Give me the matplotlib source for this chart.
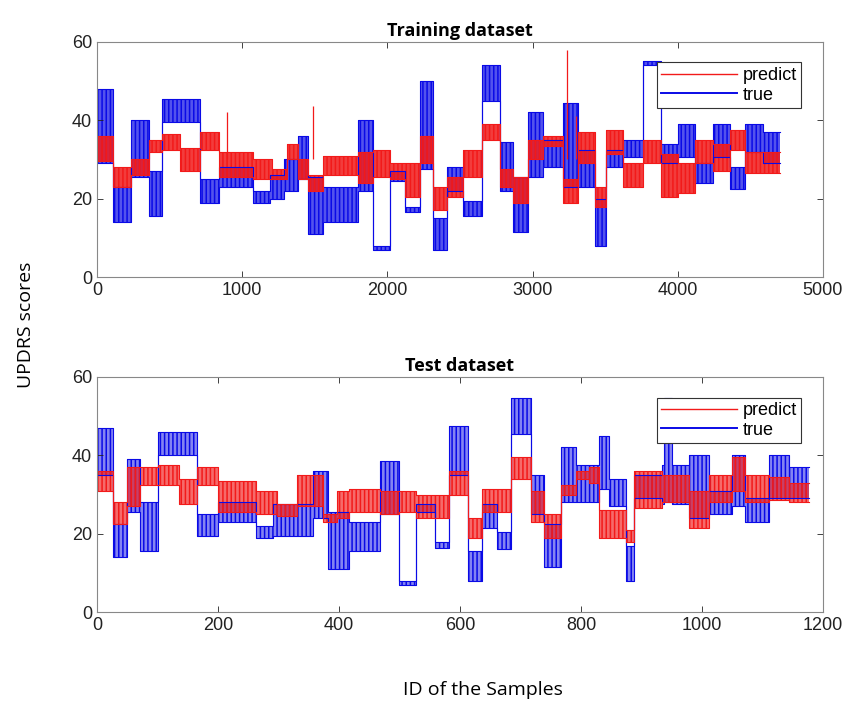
import matplotlib
matplotlib.use("Agg")
import matplotlib.pyplot as plt
from matplotlib.lines import Line2D

# ---- Training dataset: segment starts, lower / upper envelope of each series ----
train_true_x = [0, 110, 232, 358, 445, 709, 842, 1074, 1191, 1290, 1384, 1453, 1556,
                1799, 1902, 2017, 2120, 2224, 2315, 2408, 2522, 2649, 2775, 2867,
                2970, 3073, 3210, 3314, 3429, 3509, 3624, 3761, 3888, 4002, 4117,
                4243, 4358, 4461, 4588]
train_true_lo = [29, 14, 25.5, 15.5, 39.5, 19, 23, 19, 20, 22, 25, 11, 14,
                 22, 7, 24.5, 16.5, 27.5, 7, 22, 15.5, 45, 22, 11.5,
                 25.5, 28, 23, 23, 8, 28, 30.5, 54, 29, 30.5, 24,
                 30.5, 22.5, 32, 29]
train_true_hi = [48, 23, 40, 27, 45.5, 25, 28, 22, 26, 30, 36, 25.5, 23,
                 40, 8, 27, 18, 50, 15, 28, 19.5, 54, 34.5, 25.5,
                 42, 35, 44.5, 32.5, 20, 32.5, 35, 55, 34, 39, 29,
                 39, 28, 39, 37]
train_end = 4702

train_pred_x = [0, 110, 232, 358, 445, 571, 709, 842, 1074, 1202, 1306, 1384, 1453,
                1556, 1799, 1902, 2017, 2120, 2224, 2315, 2408, 2522, 2649, 2775,
                2867, 2970, 3073, 3210, 3314, 3429, 3509, 3624, 3761, 3888, 4002,
                4117, 4243, 4358, 4461, 4588]
train_pred_lo = [29.5, 23, 26, 32, 32.5, 27, 32.5, 25.5, 25, 25, 30, 25, 22,
                 26, 24, 25.5, 25, 20.5, 29, 17, 20.5, 25.5, 35, 23,
                 19, 30, 33.5, 19, 29, 18, 31.5, 23, 29, 20.5, 21.5,
                 29, 27, 32.5, 26.5, 26.5]
train_pred_hi = [36, 28, 30, 35, 36.5, 33, 37, 32, 30, 27.5, 34, 30, 26,
                 31, 32, 32.5, 29, 29, 36, 23, 25.5, 32.5, 39, 27.5,
                 25.5, 35, 36, 25, 37, 23, 37.5, 29, 35, 31.5, 29,
                 35, 34, 37.5, 32, 32]
train_spike_x = [893, 1489, 3240, 3300]
train_spike_y = [42, 43.5, 58, 41]

# ---- Test dataset ----
test_true_x = [0, 26, 49, 71, 101, 165, 200, 263, 291, 357, 382, 417, 467, 500,
               527, 558, 582, 613, 637, 662, 684, 717, 739, 767, 792, 830, 847,
               874, 888, 934, 937, 951, 979, 1012, 1050, 1072, 1111, 1144]
test_true_lo = [35, 14, 25.5, 15.5, 40, 19.5, 23, 19, 19.5, 24, 11, 15.5, 25, 7,
                25.5, 16.5, 35, 8, 21.5, 16, 45.5, 25, 11.5, 28, 28, 31.5, 27,
                8, 29, 27.5, 28, 27.5, 24, 25, 27, 23, 29, 29]
test_true_hi = [47, 22.5, 39, 28, 46, 25, 28, 22, 27.5, 36, 25.5, 23, 38.5, 8,
                27.5, 18, 47.5, 15.5, 27.5, 20.5, 54.5, 35, 22.5, 42, 37.5, 45, 34,
                17, 35, 37.5, 54.5, 37.5, 40, 31, 40, 29, 40, 37]
test_end = 1177

test_pred_x = [0, 26, 49, 71, 101, 135, 165, 200, 263, 297, 330, 373, 396, 417,
               467, 500, 527, 582, 613, 637, 684, 717, 739, 767, 792, 813, 830,
               874, 888, 934, 979, 1012, 1050, 1072, 1111, 1144]
test_pred_lo = [31, 22.5, 27, 32.5, 32.5, 27.5, 32.5, 25.5, 25, 24.5, 27, 23, 24, 25.5,
                25, 25.5, 24, 30, 19, 25.5, 34, 23, 19, 30, 34, 33, 19,
                18, 26.5, 28, 21.5, 28, 31, 28, 28.5, 28]
test_pred_hi = [36, 28, 37, 37, 37.5, 34, 37, 33.5, 31, 27.5, 35, 25, 31, 31.5,
                31, 31, 30, 36, 24, 31.5, 39.5, 31, 25, 32.5, 36, 37, 26,
                21, 36, 35, 31, 35, 39.5, 35, 34.5, 33]

RED = "#f21a1a"
BLUE = "#0a0ae6"

plt.rcParams["hatch.linewidth"] = 1.1


def band(ax, starts, end, lo, hi, color, alpha):
    xs = list(starts) + [end]
    los = list(lo) + [lo[-1]]
    his = list(hi) + [hi[-1]]
    # wash plus vertical hatching to mimic the dense zig-zag of the raw series
    ax.fill_between(xs, los, his, step="post", color=color, alpha=alpha, linewidth=0)
    ax.fill_between(xs, los, his, step="post", facecolor="none", edgecolor=color,
                    hatch="||||", linewidth=0)
    ax.step(xs, los, where="post", color=color, linewidth=0.8)
    ax.step(xs, his, where="post", color=color, linewidth=0.8)


def style_axes(ax, xmax, xticks):
    ax.set_xlim(0, xmax)
    ax.set_ylim(0, 60)
    ax.set_xticks(xticks)
    ax.set_yticks([0, 20, 40, 60])
    ax.tick_params(direction="in", top=True, right=True, length=4,
                   labelsize=13, colors="#222222", width=0.6)
    for lab in ax.get_xticklabels() + ax.get_yticklabels():
        lab.set_family("Liberation Sans")
    for sp in ax.spines.values():
        sp.set_color("#888888")
        sp.set_linewidth(0.8)
    handles = [Line2D([], [], color=RED, linewidth=1.0),
               Line2D([], [], color=BLUE, linewidth=1.4)]
    leg = ax.legend(handles, ["predict", "true"], loc="upper right",
                    bbox_to_anchor=(0.97, 0.912), borderaxespad=0,
                    handlelength=4.2, handletextpad=0.3,
                    labelspacing=0.15, borderpad=0.25, fancybox=False,
                    framealpha=1, edgecolor="#333333",
                    prop={"family": "Liberation Sans", "size": 13})
    leg.get_frame().set_linewidth(0.8)


fig = plt.figure(figsize=(8.51, 7.07), dpi=100)
ax1 = fig.add_axes([0.114, 0.608, 0.853, 0.333])
ax2 = fig.add_axes([0.114, 0.134, 0.853, 0.333])

# training panel
band(ax1, train_true_x, train_end, train_true_lo, train_true_hi, BLUE, 0.7)
band(ax1, train_pred_x, train_end, train_pred_lo, train_pred_hi, RED, 0.85)
for sx, sy in zip(train_spike_x, train_spike_y):
    ax1.vlines(sx, 30, sy, color=RED, linewidth=0.9)
style_axes(ax1, 5000, [0, 1000, 2000, 3000, 4000, 5000])
ax1.set_title("Training dataset", fontsize=13, fontweight="bold",
              family="Open Sans", pad=4)

# test panel
band(ax2, test_true_x, test_end, test_true_lo, test_true_hi, BLUE, 0.5)
band(ax2, test_pred_x, test_end, test_pred_lo, test_pred_hi, RED, 0.65)
style_axes(ax2, 1200, [0, 200, 400, 600, 800, 1000, 1200])
ax2.set_title("Test dataset", fontsize=13, fontweight="bold",
              family="Open Sans", pad=4)

fig.text(0.03, 0.54, "UPDRS scores", rotation=90, ha="center", va="center",
         fontsize=14, family="Open Sans")
fig.text(0.568, 0.024, "ID of the Samples", ha="center", va="center",
         fontsize=14, family="Open Sans")

fig.savefig("out.png", dpi=100)
